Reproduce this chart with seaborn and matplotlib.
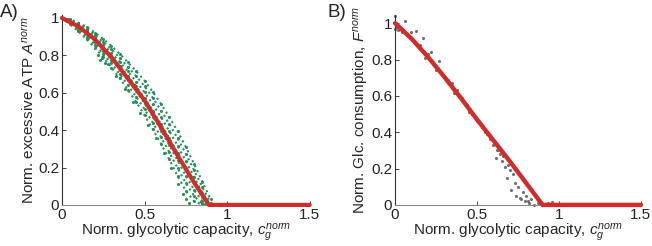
"""
Normalised excess ATP (A) and glucose consumption (B) versus glycolytic capacity.
"""
import matplotlib
matplotlib.use('Agg')
import seaborn as sns
import matplotlib.pyplot as plt

sns.set_style('ticks')
plt.rcParams['font.family'] = ['Liberation Sans', 'DejaVu Sans']
plt.rcParams['mathtext.fontset'] = 'custom'
plt.rcParams['mathtext.rm'] = 'Liberation Sans'
plt.rcParams['mathtext.it'] = 'Liberation Sans:italic'

# ---- panel A: simulated points (green), one list per parameter curve ----
x_grid_a = [0.0, 0.05, 0.1, 0.15, 0.2, 0.25, 0.3, 0.35, 0.4, 0.45,
            0.5, 0.55, 0.6, 0.65, 0.7, 0.75, 0.8, 0.85, 0.9]
curve_a1 = [1.0, 0.992, 0.975, 0.952, 0.922, 0.888, 0.85, 0.808, 0.762, 0.715,
            0.665, 0.605, 0.54, 0.47, 0.395, 0.31, 0.22, 0.125, 0.03]
curve_a2 = [1.0, 0.988, 0.968, 0.942, 0.91, 0.872, 0.832, 0.787, 0.738, 0.688,
            0.635, 0.573, 0.505, 0.433, 0.357, 0.273, 0.185, 0.095, 0.01]
curve_a3 = [1.0, 0.984, 0.962, 0.934, 0.898, 0.857, 0.813, 0.765, 0.714, 0.66,
            0.602, 0.538, 0.468, 0.395, 0.317, 0.235, 0.15, 0.065, 0.0]
curve_a4 = [1.0, 0.98, 0.955, 0.925, 0.886, 0.842, 0.795, 0.745, 0.69, 0.634,
            0.572, 0.505, 0.432, 0.357, 0.278, 0.197, 0.115, 0.04, 0.0]
curve_a5 = [1.0, 0.976, 0.947, 0.913, 0.872, 0.826, 0.777, 0.724, 0.667, 0.607,
            0.543, 0.473, 0.398, 0.32, 0.238, 0.157, 0.08, 0.02, 0.0]
curve_a6 = [1.0, 0.971, 0.938, 0.90, 0.857, 0.808, 0.757, 0.70, 0.64, 0.578,
            0.512, 0.44, 0.363, 0.282, 0.197, 0.117, 0.048, 0.005, 0.0]
curve_a7 = [1.0, 0.966, 0.928, 0.886, 0.84, 0.789, 0.735, 0.677, 0.615, 0.55,
            0.48, 0.405, 0.327, 0.243, 0.155, 0.075, 0.02, 0.0, 0.0]
green_curves = [curve_a1, curve_a2, curve_a3, curve_a4, curve_a5, curve_a6, curve_a7]

# loose green points (dips below the band and the tail lying on zero)
extra_x_a = [0.22, 0.23, 0.24, 0.26, 0.28, 0.33, 0.38, 0.43, 0.47, 0.52,
             0.57, 0.62, 0.66, 0.70, 0.73, 0.75, 0.77, 0.85, 0.88, 0.9,
             0.92, 0.94, 0.96, 0.98, 1.0]
extra_y_a = [0.80, 0.775, 0.785, 0.76, 0.755, 0.69, 0.62, 0.55, 0.49, 0.43,
             0.36, 0.28, 0.20, 0.11, 0.06, 0.03, 0.01, 0.01, 0.01, 0.005,
             0.005, 0.003, 0.002, 0.001, 0.0]

# fitted curve A (red)
fit_x_a = [0.0, 0.1, 0.2, 0.3, 0.4, 0.5, 0.6, 0.7, 0.8, 0.89, 1.0, 1.5]
fit_y_a = [1.0, 0.955, 0.885, 0.79, 0.675, 0.56, 0.415, 0.265, 0.12, 0.0, 0.0, 0.0]

# ---- panel B: simulated points (grey) ----
pts_x_b = [0.0, 0.0, 0.01, 0.02, 0.03, 0.04, 0.06, 0.08, 0.1, 0.11,
           0.13, 0.15, 0.17, 0.2, 0.22, 0.24, 0.27, 0.3, 0.32, 0.35,
           0.38, 0.41, 0.44, 0.47, 0.5, 0.53, 0.56, 0.58, 0.6, 0.615,
           0.63, 0.65, 0.66, 0.68, 0.69, 0.7, 0.71, 0.72, 0.73, 0.74,
           0.75, 0.76, 0.77, 0.78, 0.79, 0.8, 0.81, 0.82, 0.83, 0.85,
           0.87, 0.9, 0.93, 0.96, 0.98, 1.0, 1.03, 1.08, 0.05, 0.12,
           0.18, 0.25, 0.36, 0.45, 0.55, 0.62, 0.64, 0.67]
pts_y_b = [1.04, 0.97, 0.98, 0.96, 0.97, 0.95, 1.01, 0.93, 0.95, 0.91,
           0.955, 0.88, 0.92, 0.83, 0.84, 0.77, 0.79, 0.71, 0.69, 0.67,
           0.63, 0.59, 0.55, 0.50, 0.46, 0.43, 0.39, 0.36, 0.33, 0.26,
           0.30, 0.24, 0.27, 0.15, 0.22, 0.19, 0.08, 0.17, 0.12, 0.05,
           0.10, 0.04, 0.03, 0.07, 0.02, 0.05, 0.02, 0.01, 0.03, 0.0,
           0.01, 0.005, 0.01, 0.015, 0.005, 0.005, 0.0, 0.003, 0.955, 0.89,
           0.81, 0.745, 0.615, 0.51, 0.40, 0.30, 0.28, 0.21]

# fitted curve B (red)
fit_x_b = [0.0, 0.1, 0.2, 0.3, 0.4, 0.5, 0.6, 0.7, 0.8, 0.9, 1.5]
fit_y_b = [1.0, 0.915, 0.815, 0.705, 0.59, 0.47, 0.355, 0.24, 0.12, 0.0, 0.0]

x_ticks = [0, 0.5, 1, 1.5]
x_tick_labels = ['0', '0.5', '1', '1.5']
y_ticks = [0, 0.2, 0.4, 0.6, 0.8, 1]
y_tick_labels = ['0', '0.2', '0.4', '0.6', '0.8', '1']

GREEN = '#23905a'
GREY = '#707070'
RED = '#d12b2b'
FS = 11

fig = plt.figure(figsize=(6.52, 2.46), dpi=100)
ax_a = fig.add_axes([0.095, 0.167, 0.380, 0.772])
ax_b = fig.add_axes([0.606, 0.167, 0.377, 0.772])

# panel A
for ys in green_curves:
    sns.lineplot(x=x_grid_a, y=ys, ax=ax_a, color=GREEN, lw=1.5, ls=':',
                 marker='o', markersize=2.2, markeredgewidth=0, sort=False)
sns.scatterplot(x=extra_x_a, y=extra_y_a, ax=ax_a, color=GREEN, s=5,
                linewidth=0, clip_on=False)
sns.lineplot(x=fit_x_a, y=fit_y_a, ax=ax_a, color=RED, lw=3.0,
             sort=False, clip_on=False, zorder=5)
ax_a.set_ylim(0, 1.016)

# panel B
sns.scatterplot(x=pts_x_b, y=pts_y_b, ax=ax_b, color=GREY, s=5,
                linewidth=0, clip_on=False)
sns.lineplot(x=fit_x_b, y=fit_y_b, ax=ax_b, color=RED, lw=3.2,
             sort=False, clip_on=False, zorder=5)
ax_b.set_ylim(0, 1.045)

for ax in (ax_a, ax_b):
    ax.set_xlim(0, 1.5)
    ax.set_xticks(x_ticks)
    ax.set_xticklabels(x_tick_labels, fontsize=FS)
    ax.set_yticks(y_ticks)
    ax.set_yticklabels(y_tick_labels, fontsize=FS)
    ax.tick_params(direction='in', length=3, width=0.6, pad=2, colors='#222222')
    ax.tick_params(axis='x', pad=2)
    sns.despine(ax=ax)
    ax.spines['left'].set_color('#333333')
    ax.spines['left'].set_linewidth(0.8)
    ax.spines['bottom'].set_color('#8a8a8a')
    ax.spines['bottom'].set_linewidth(0.8)
    ax.set_xlabel('Norm. glycolytic capacity, $c_g^{norm}$', fontsize=FS, labelpad=0)

ax_a.set_ylabel('Norm. excessive ATP $A^{norm}$', fontsize=FS, labelpad=1)
ax_b.set_ylabel('Norm. Glc. consumption, $F^{norm}$', fontsize=FS, labelpad=1)

fig.text(0.0, 0.985, 'A)', fontsize=13.5, va='top', ha='left')
fig.text(0.503, 0.985, 'B)', fontsize=13.5, va='top', ha='left')

fig.savefig('out.png', dpi=100)
